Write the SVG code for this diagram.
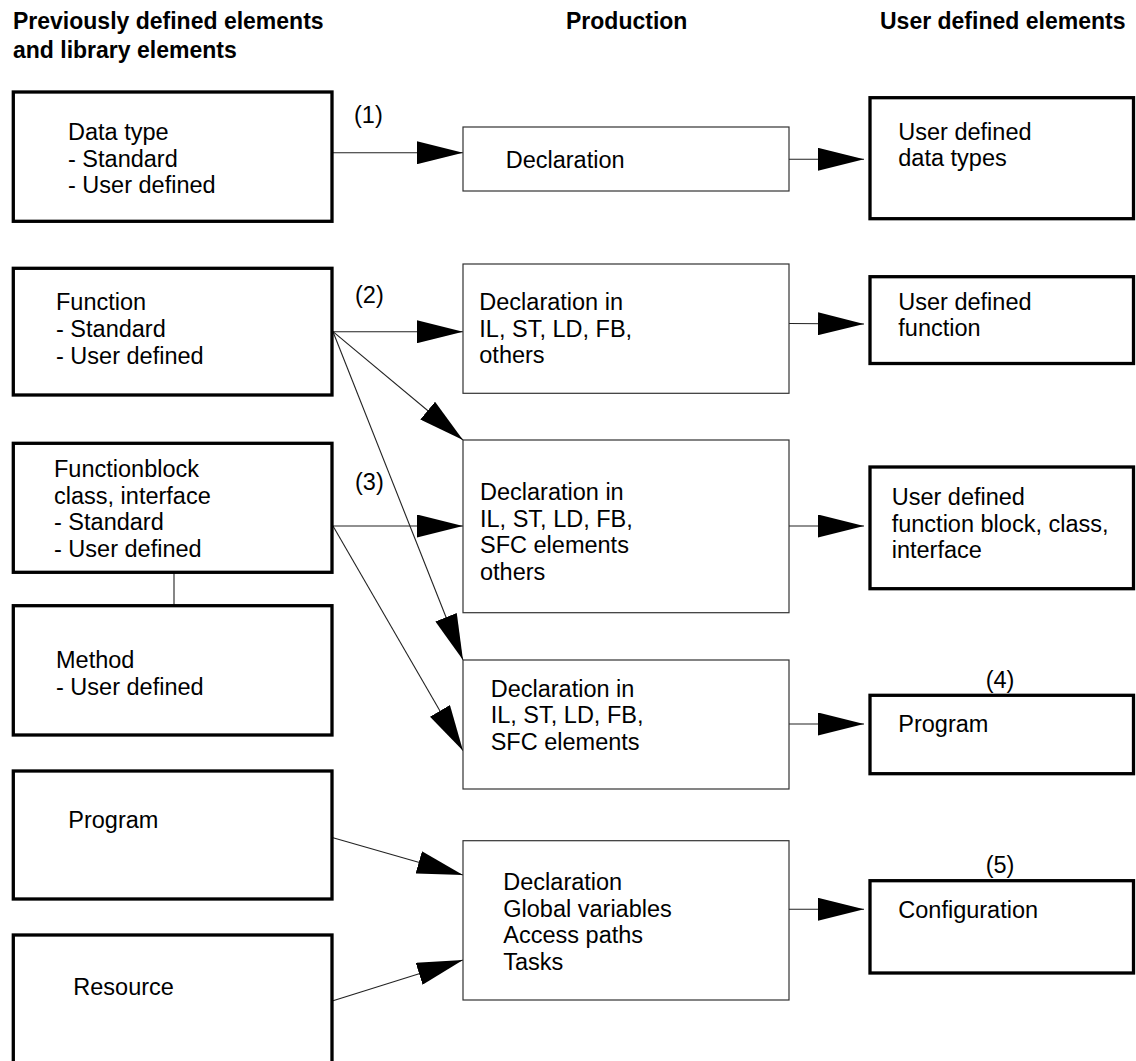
<svg xmlns="http://www.w3.org/2000/svg" width="1136" height="1061" viewBox="0 0 1136 1061">
  <defs>
    <marker id="arrow" viewBox="0 0 46 23" refX="46" refY="11.5" markerWidth="46" markerHeight="23" markerUnits="userSpaceOnUse" orient="auto">
      <path d="M0,0 L46,11.5 L0,23 Z" fill="#000"/>
    </marker>
    <style>
      text { font-family: "Liberation Sans", Arial, sans-serif; fill: #000; }
      .hdr { font-size: 23px; font-weight: bold; }
      .lbl { font-size: 23.5px; }
      .thick { fill: #fff; stroke: #000; stroke-width: 3.3; }
      .thin { fill: #fff; stroke: #333; stroke-width: 1.2; }
      .conn { stroke: #222; stroke-width: 1.1; fill: none; }
      .arr { marker-end: url(#arrow); }
    </style>
  </defs>
  <rect width="1136" height="1061" fill="#fff"/>

  <!-- column headings -->
  <g id="headings">
    <text class="hdr" x="13" y="29">Previously defined elements</text>
    <text class="hdr" x="13" y="58">and library elements</text>
    <text class="hdr" x="566" y="29">Production</text>
    <text class="hdr" x="880" y="29">User defined elements</text>
  </g>

  <!-- connectors -->
  <g id="connectors">
    <line class="conn arr" x1="332" y1="152.7" x2="463" y2="152.7"/>
    <line class="conn arr" x1="789" y1="159.3" x2="864" y2="159.3"/>
    <line class="conn arr" x1="333" y1="331.7" x2="463" y2="331.7"/>
    <line class="conn arr" x1="333" y1="331.7" x2="463" y2="440"/>
    <line class="conn arr" x1="333" y1="331.7" x2="463" y2="660"/>
    <line class="conn arr" x1="789" y1="323.5" x2="864" y2="324"/>
    <line class="conn arr" x1="333" y1="526" x2="463" y2="526"/>
    <line class="conn arr" x1="333" y1="526" x2="463" y2="750.7"/>
    <line class="conn arr" x1="789" y1="526" x2="864" y2="526"/>
    <line class="conn arr" x1="789" y1="724" x2="864" y2="724"/>
    <line class="conn arr" x1="333" y1="837.7" x2="463" y2="875"/>
    <line class="conn arr" x1="333" y1="1000.7" x2="463" y2="960"/>
    <line class="conn arr" x1="789" y1="909.3" x2="864" y2="909.3"/>
    <line class="conn" x1="174" y1="572.3" x2="174" y2="605.7"/>
  </g>

  <!-- connector labels -->
  <g id="labels">
    <text class="lbl" x="354" y="123.3">(1)</text>
    <text class="lbl" x="355" y="303.3">(2)</text>
    <text class="lbl" x="355" y="490">(3)</text>
    <text class="lbl" x="1000" y="688.3" text-anchor="middle">(4)</text>
    <text class="lbl" x="1000" y="873.3" text-anchor="middle">(5)</text>
  </g>

  <!-- left column: previously defined and library elements -->
  <g id="data-type">
    <rect class="thick" x="13.3" y="92" width="318.7" height="129.3"/>
    <text class="lbl" x="68" y="140">Data type</text>
    <text class="lbl" x="68" y="166.5">- Standard</text>
    <text class="lbl" x="68" y="193">- User defined</text>
  </g>
  <g id="function">
    <rect class="thick" x="13.3" y="268.3" width="318.7" height="126.7"/>
    <text class="lbl" x="56" y="310">Function</text>
    <text class="lbl" x="56" y="337">- Standard</text>
    <text class="lbl" x="56" y="363.5">- User defined</text>
  </g>
  <g id="functionblock">
    <rect class="thick" x="13.3" y="443.3" width="318.7" height="129"/>
    <text class="lbl" x="54" y="477">Functionblock</text>
    <text class="lbl" x="54" y="503.5">class, interface</text>
    <text class="lbl" x="54" y="530">- Standard</text>
    <text class="lbl" x="54" y="556.5">- User defined</text>
  </g>
  <g id="method">
    <rect class="thick" x="13.3" y="605.7" width="318.7" height="129.3"/>
    <text class="lbl" x="56" y="668.3">Method</text>
    <text class="lbl" x="56" y="695">- User defined</text>
  </g>
  <g id="program-in">
    <rect class="thick" x="13.3" y="771" width="318.7" height="128"/>
    <text class="lbl" x="68.3" y="828.3">Program</text>
  </g>
  <g id="resource">
    <rect class="thick" x="13.3" y="935" width="318.7" height="140"/>
    <text class="lbl" x="73.3" y="995">Resource</text>
  </g>

  <!-- middle column: production steps -->
  <g id="decl-types">
    <rect class="thin" x="463" y="127" width="326" height="64"/>
    <text class="lbl" x="505.7" y="168.3">Declaration</text>
  </g>
  <g id="decl-function">
    <rect class="thin" x="463" y="264" width="326" height="129.3"/>
    <text class="lbl" x="479.3" y="310">Declaration in</text>
    <text class="lbl" x="479.3" y="336.7">IL, ST, LD, FB,</text>
    <text class="lbl" x="479.3" y="363.3">others</text>
  </g>
  <g id="decl-fb">
    <rect class="thin" x="463" y="440" width="326" height="172.7"/>
    <text class="lbl" x="480" y="500">Declaration in</text>
    <text class="lbl" x="480" y="526.5">IL, ST, LD, FB,</text>
    <text class="lbl" x="480" y="553">SFC elements</text>
    <text class="lbl" x="480" y="579.5">others</text>
  </g>
  <g id="decl-program">
    <rect class="thin" x="463" y="660" width="326" height="129"/>
    <text class="lbl" x="490.7" y="696.7">Declaration in</text>
    <text class="lbl" x="490.7" y="723.3">IL, ST, LD, FB,</text>
    <text class="lbl" x="490.7" y="749.8">SFC elements</text>
  </g>
  <g id="decl-config">
    <rect class="thin" x="463" y="840.7" width="326" height="159.3"/>
    <text class="lbl" x="503.3" y="890">Declaration</text>
    <text class="lbl" x="503.3" y="916.7">Global variables</text>
    <text class="lbl" x="503.3" y="943.4">Access paths</text>
    <text class="lbl" x="503.3" y="970">Tasks</text>
  </g>

  <!-- right column: user defined elements -->
  <g id="user-data-types">
    <rect class="thick" x="870" y="97.7" width="263.5" height="121"/>
    <text class="lbl" x="898.3" y="140">User defined</text>
    <text class="lbl" x="898.3" y="166.3">data types</text>
  </g>
  <g id="user-function">
    <rect class="thick" x="870" y="276.7" width="263.5" height="86.8"/>
    <text class="lbl" x="898.3" y="310">User defined</text>
    <text class="lbl" x="898.3" y="336.3">function</text>
  </g>
  <g id="user-fb">
    <rect class="thick" x="870" y="467" width="263.5" height="121.7"/>
    <text class="lbl" x="891.7" y="505">User defined</text>
    <text class="lbl" x="891.7" y="531.6">function block, class,</text>
    <text class="lbl" x="891.7" y="558">interface</text>
  </g>
  <g id="user-program">
    <rect class="thick" x="870" y="695.3" width="263.5" height="78.4"/>
    <text class="lbl" x="898.3" y="731.7">Program</text>
  </g>
  <g id="user-configuration">
    <rect class="thick" x="870" y="880.7" width="263.5" height="92.3"/>
    <text class="lbl" x="898.3" y="917.7">Configuration</text>
  </g>
</svg>
